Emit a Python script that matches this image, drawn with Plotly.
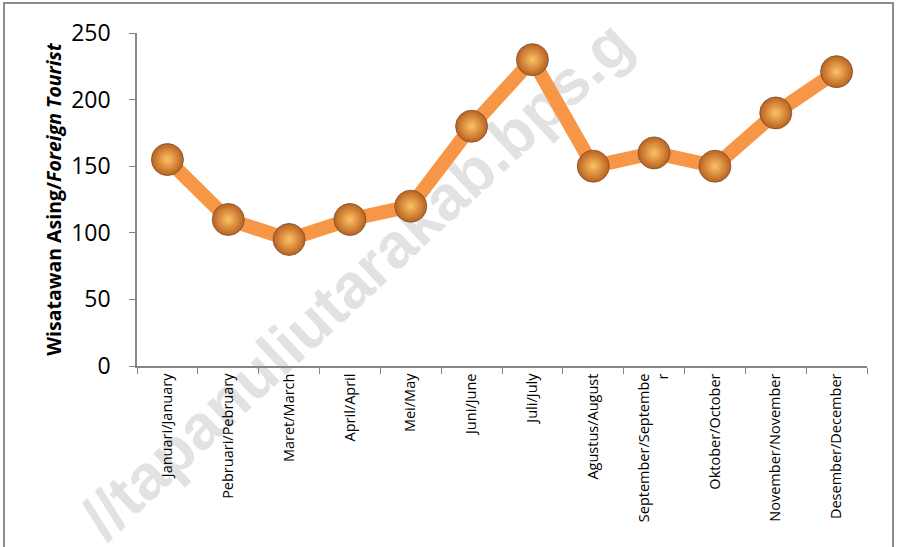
import plotly.graph_objects as go

months = ["Januari/January", "Pebruari/Pebruary", "Maret/March", "April/April",
          "Mei/May", "Juni/June", "Juli/July", "Agustus/August",
          "September/Septembe<br>r", "Oktober/October", "November/November",
          "Desember/December"]
tourists = [155, 110, 95, 110, 120, 180, 230, 150, 160, 150, 190, 221]
y_ticks = [0, 50, 100, 150, 200, 250]
watermark = "//tapanuliutarakab.bps.g"

W, H = 897, 547
L, R, T, B = 137, 30, 33, 181
pw, ph = W - L - R, H - T - B

def px(x):
    return (x - L) / pw

def py(y):
    return (H - B - y) / ph

fig = go.Figure()
fig.add_trace(go.Scatter(
    x=months, y=tourists, mode="lines",
    line=dict(color="#F79646", width=14),
    hoverinfo="skip", showlegend=False,
))
fig.add_trace(go.Scatter(
    x=months, y=tourists, mode="markers",
    marker=dict(size=32, color="#B9611F",
                gradient=dict(type="radial", color="#FFC266"),
                line=dict(color="#7A5030", width=0.8)),
    showlegend=False,
))

fig.update_layout(
    width=W, height=H,
    margin=dict(l=L, r=R, t=T, b=B, autoexpand=False),
    paper_bgcolor="white", plot_bgcolor="white",
    font=dict(family="Open Sans, Liberation Sans, sans-serif", color="black"),
    xaxis=dict(
        type="category", range=[-0.5, 11.5],
        showline=True, linecolor="#868686", linewidth=1.5,
        ticks="outside", tickcolor="#868686", ticklen=6, tickson="boundaries",
        tickangle=-90, tickfont=dict(size=14.5), showgrid=False,
    ),
    yaxis=dict(
        range=[0, 250], tickvals=y_ticks,
        showline=True, linecolor="#868686", linewidth=1.5,
        ticks="outside", tickcolor="#868686", ticklen=6,
        tickfont=dict(size=23), ticklabelstandoff=14, showgrid=False,
        title=dict(text="<b>Wisatawan Asing/<i>Foreign Tourist</i></b>",
                   font=dict(size=19.5), standoff=4),
    ),
    shapes=[
        dict(type="rect", xref="paper", yref="paper",
             x0=px(4), x1=px(893), y0=py(3), y1=py(560),
             line=dict(color="#8C8C8C", width=2), layer="below"),
        dict(type="line", xref="paper", yref="paper",
             x0=px(376 - 300), y0=py(304 + 280), x1=px(376 + 300), y1=py(304 - 280),
             line=dict(width=0), layer="below",
             label=dict(text="<b>" + watermark + "</b>",
                        textangle=-43, textposition="middle",
                        font=dict(size=63, color="#E2E2E2",
                                  family="Liberation Sans, Arial, sans-serif"))),
    ],
)

fig.write_html("out.html", config={"displayModeBar": False})

with open("out.html", "r", encoding="utf-8") as f:
    html = f.read()
html = html.replace("<body>", '<body style="margin:0;padding:0;overflow:hidden">', 1)
with open("out.html", "w", encoding="utf-8") as f:
    f.write(html)
